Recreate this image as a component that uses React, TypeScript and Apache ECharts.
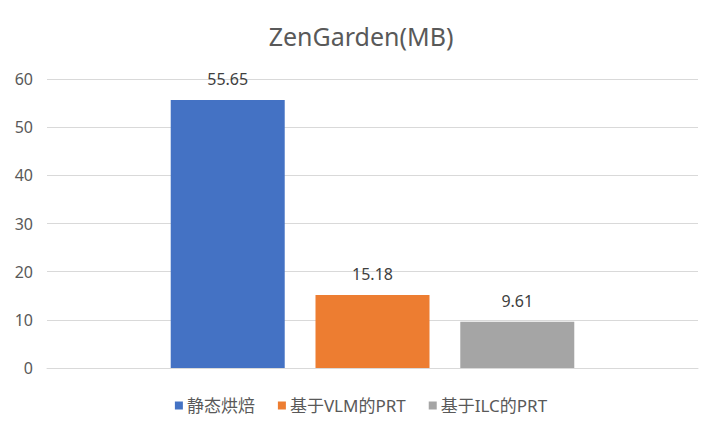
import React, { useEffect, useRef } from "react";
import * as echarts from "echarts";

const categories = ["ZenGarden"];
const seriesNames = ["静态烘焙", "基于VLM的PRT", "基于ILC的PRT"];
const seriesValues = [55.65, 15.18, 9.61];
const seriesColors = ["#4472C4", "#ED7D31", "#A5A5A5"];
const yTicks = { min: 0, max: 60, interval: 10 };

export default function App() {
  const ref = useRef<HTMLDivElement>(null);
  useEffect(() => {
    if (!ref.current) return;
    const chart = echarts.init(ref.current, null, { renderer: "svg" });
    const font = "'Noto Sans', 'Noto Sans CJK SC', sans-serif";
    chart.setOption({
      animation: false,
      backgroundColor: "#ffffff",
      title: {
        text: "ZenGarden(MB)",
        left: "center",
        top: 18,
        textStyle: { fontFamily: font, fontSize: 25, fontWeight: "normal", color: "#595959" },
      },
      legend: {
        top: 392,
        left: "center",
        itemWidth: 8,
        itemHeight: 8,
        itemGap: 23,
        icon: "rect",
        textStyle: { fontFamily: font, fontSize: 17, color: "#595959", padding: [0, 0, 0, -1] },
        data: seriesNames,
      },
      grid: { left: 47, right: 24, top: 79, bottom: 66, containLabel: false },
      xAxis: {
        type: "category",
        data: categories,
        axisLine: { show: true, lineStyle: { color: "#D9D9D9" } },
        axisTick: { show: false },
        axisLabel: { show: false },
      },
      yAxis: {
        type: "value",
        min: yTicks.min,
        max: yTicks.max,
        interval: yTicks.interval,
        axisLine: { show: false },
        axisTick: { show: false },
        axisLabel: { fontFamily: font, fontSize: 16, color: "#595959", margin: 14 },
        splitLine: { lineStyle: { color: "#D9D9D9", width: 1 } },
      },
      series: seriesNames.map((name, i) => ({
        name,
        type: "bar",
        data: [seriesValues[i]],
        barWidth: 114,
        barGap: "27%",
        itemStyle: { color: seriesColors[i] },
        label: {
          show: true,
          position: "top",
          distance: 13,
          fontFamily: font,
          fontSize: 16,
          color: "#404040",
          formatter: (p: any) => p.value.toFixed(2),
        },
      })),
    });
    return () => chart.dispose();
  }, []);
  return (
    <div
      ref={ref}
      style={{ position: "fixed", left: 0, top: 0, width: 722, height: 434 }}
    />
  );
}
